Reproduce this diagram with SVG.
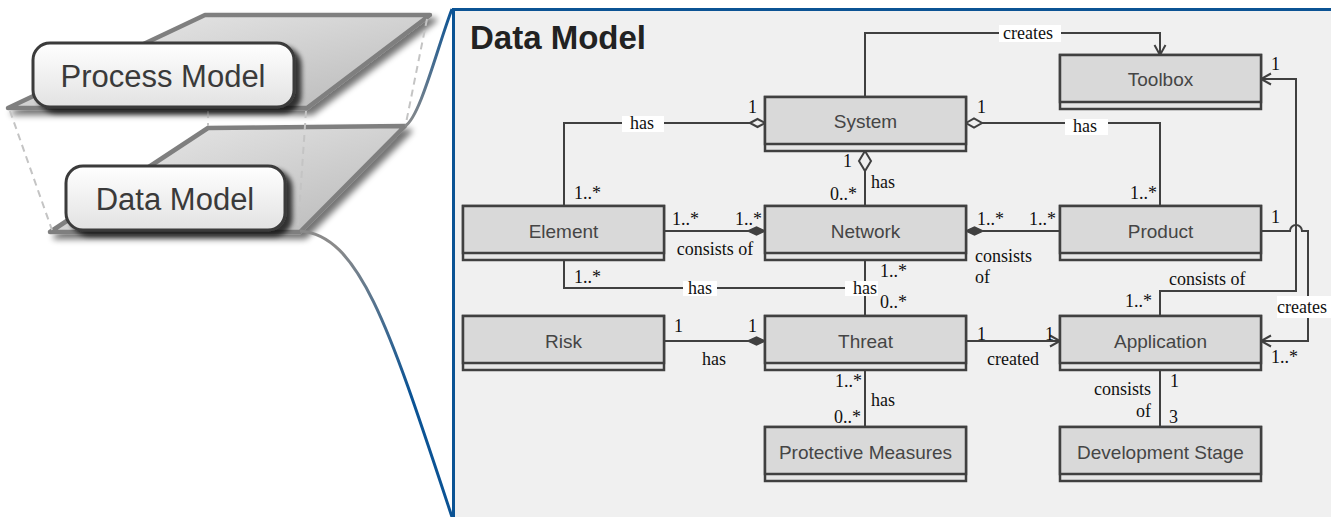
<svg xmlns="http://www.w3.org/2000/svg" width="1331" height="517" viewBox="0 0 1331 517">
<defs>
<style>
.box rect{stroke:#404040;stroke-width:2.5}
.box .main{fill:#d9d9d9}
.box .foot{fill:#e6e6e6}
.box text{font-family:"Liberation Sans",Arial,sans-serif;font-size:19px;fill:#454545;text-anchor:middle}
.c path{fill:none;stroke:#404040;stroke-width:2}
.c .hd{fill:#f0f0f0;stroke:#404040;stroke-width:2}
.c .fd{fill:#404040;stroke:#404040;stroke-width:1.5}
.t{font-family:"Liberation Serif","Times New Roman",serif;font-size:18px;fill:#111}
.m{text-anchor:middle}
.e{text-anchor:end}
.bg{fill:#ffffff}
.plane{stroke:#7f7f7f;stroke-width:4.5;stroke-linejoin:round}
.dash{stroke:#c4c4c4;stroke-width:2;stroke-dasharray:7 5;fill:none}
.lab rect{fill:url(#gLab);stroke:#3a3a3a;stroke-width:3}
.lab text{font-family:"Liberation Sans",Arial,sans-serif;font-size:31px;fill:#3a3a3a;text-anchor:middle}
</style>
<linearGradient id="gPlane" x1="0" y1="0" x2="1" y2="1">
<stop offset="0" stop-color="#ececec"/><stop offset="1" stop-color="#b8b8b8"/>
</linearGradient>
<linearGradient id="gLab" x1="0" y1="0" x2="0" y2="1">
<stop offset="0" stop-color="#ffffff"/><stop offset="1" stop-color="#e2e2e2"/>
</linearGradient>
<linearGradient id="gUp" gradientUnits="userSpaceOnUse" x1="405" y1="126" x2="452" y2="9">
<stop offset="0" stop-color="#8a8a8a"/><stop offset="1" stop-color="#0b5394"/>
</linearGradient>
<linearGradient id="gDown" gradientUnits="userSpaceOnUse" x1="300" y1="231" x2="452" y2="517">
<stop offset="0.1" stop-color="#8a8a8a"/><stop offset="0.6" stop-color="#0b5394"/>
</linearGradient>
<filter id="sh" x="-10%" y="-10%" width="130%" height="150%">
<feGaussianBlur in="SourceAlpha" stdDeviation="3"/>
<feOffset dx="5" dy="5"/>
<feComponentTransfer><feFuncA type="linear" slope="0.55"/></feComponentTransfer>
<feMerge><feMergeNode/><feMergeNode in="SourceGraphic"/></feMerge>
</filter>
<filter id="sh2" x="-10%" y="-10%" width="130%" height="150%">
<feGaussianBlur in="SourceAlpha" stdDeviation="2.5"/>
<feOffset dx="6" dy="5"/>
<feComponentTransfer><feFuncA type="linear" slope="0.75"/></feComponentTransfer>
<feMerge><feMergeNode/><feMergeNode in="SourceGraphic"/></feMerge>
</filter>
<marker id="arr" markerUnits="userSpaceOnUse" markerWidth="14" markerHeight="14" refX="12" refY="7" orient="auto" viewBox="0 0 14 14">
<path d="M2,1.5 L12,7 L2,12.5" fill="none" stroke="#404040" stroke-width="2"/>
</marker>
</defs>

<!-- left: layered models -->
<g id="layers">
<polygon class="plane" points="208,128 405,126 300,232 50,232" fill="url(#gPlane)" filter="url(#sh)"/>
<polygon class="plane" points="205,15 430,15 307,108 8,108" fill="url(#gPlane)" filter="url(#sh)"/>
<path class="dash" d="M10,111 L52,230"/>
<path class="dash" d="M208,111 L208,126"/>
<path class="dash" d="M306,111 L298,228"/>
<path class="dash" d="M427,19 L406,123"/>
<g id="process-model" class="lab">
<rect x="33" y="43" width="261" height="64" rx="17" filter="url(#sh2)"/>
<text x="163" y="87">Process Model</text>
</g>
<g id="data-model" class="lab">
<rect x="66" y="166" width="219" height="64" rx="17" filter="url(#sh2)"/>
<text x="175" y="210">Data Model</text>
</g>
<path d="M405,126 C420,118 438,45 452,9" fill="none" stroke="url(#gUp)" stroke-width="3"/>
<path d="M300,231 C360,235 390,330 452,517" fill="none" stroke="url(#gDown)" stroke-width="3"/>
</g>

<!-- panel -->
<rect x="453.5" y="9.5" width="1000" height="600" fill="#f0f0f0" stroke="#0b5394" stroke-width="3"/>
<text x="470" y="49" font-family="Liberation Sans,Arial,sans-serif" font-size="33" font-weight="bold" fill="#222">Data Model</text>

<!-- connectors -->
<g id="connectors" class="c">
<path d="M865,97 V33 H1160 V55" marker-end="url(#arr)"/>
<path d="M564,206 V123 H750"/>
<polygon class="hd" points="750,123 757.5,119 765,123 757.5,127"/>
<polygon class="hd" points="966,123 974,118.5 982,123 974,127.5"/>
<path d="M982,123 H1160 V206"/>
<polygon class="hd" points="865,151 871,161 865,171 859,161"/>
<path d="M865,171 V206"/>
<path d="M664,231 H748"/>
<polygon class="fd" points="748,231 756.5,227 765,231 756.5,235"/>
<polygon class="fd" points="966,231 974.5,227 983,231 974.5,235"/>
<path d="M983,231 H1060"/>
<path d="M564,260 V288 H865"/>
<path d="M865,260 V316"/>
<path d="M664,341 H748"/>
<polygon class="fd" points="748,341 756.5,337 765,341 756.5,345"/>
<path d="M966,341 H1060" marker-end="url(#arr)"/>
<path d="M865,370 V427"/>
<path d="M1160,370 V427"/>
<path d="M1160,316 V291 H1296 V79 H1261" marker-end="url(#arr)"/>
<path d="M1261,231 H1290 A6,6 0 0 1 1302,231 H1308 V341 H1261" marker-end="url(#arr)"/>

<rect class="bg" x="999" y="25" width="62" height="17"/>
<text class="t m" x="1028" y="39">creates</text>
<rect class="bg" x="622" y="116" width="42" height="16"/>
<text class="t m" x="642" y="129">has</text>
<rect class="bg" x="1065" y="119" width="43" height="16"/>
<text class="t m" x="1085" y="132">has</text>
<rect class="bg" x="683" y="281" width="34" height="15"/>
<text class="t m" x="700" y="294">has</text>
<rect class="bg" x="845" y="281" width="33" height="15"/>
<text class="t m" x="865" y="294">has</text>
<rect class="bg" x="1277" y="296" width="54" height="22"/>
<text class="t" x="1277" y="313">creates</text>

<text class="t" x="748" y="113">1</text>
<text class="t" x="977" y="113">1</text>
<text class="t" x="1271" y="70">1</text>
<text class="t" x="843" y="167">1</text>
<text class="t" x="871" y="188">has</text>
<text class="t" x="830" y="200">0..*</text>
<text class="t" x="574" y="199">1..*</text>
<text class="t" x="1130" y="199">1..*</text>
<text class="t" x="672" y="225">1..*</text>
<text class="t" x="735" y="225">1..*</text>
<text class="t m" x="715" y="255">consists of</text>
<text class="t" x="977" y="225">1..*</text>
<text class="t" x="1029" y="225">1..*</text>
<text class="t" x="975" y="262">consists</text>
<text class="t" x="975" y="283">of</text>
<text class="t" x="1271" y="223">1</text>
<text class="t" x="574" y="283">1..*</text>
<text class="t" x="880" y="277">1..*</text>
<text class="t" x="880" y="308">0..*</text>
<text class="t" x="1169" y="285">consists of</text>
<text class="t" x="1125" y="307">1..*</text>
<text class="t" x="674" y="332">1</text>
<text class="t" x="748" y="332">1</text>
<text class="t m" x="714" y="365">has</text>
<text class="t" x="977" y="340">1</text>
<text class="t" x="1045" y="340">1</text>
<text class="t m" x="1013" y="365">created</text>
<text class="t" x="1271" y="363">1..*</text>
<text class="t" x="835" y="387">1..*</text>
<text class="t" x="871" y="406">has</text>
<text class="t" x="834" y="423">0..*</text>
<text class="t" x="1170" y="387">1</text>
<text class="t e" x="1151" y="395">consists</text>
<text class="t e" x="1151" y="417">of</text>
<text class="t" x="1169" y="423">3</text>
</g>

<!-- nodes -->
<g id="system" class="box"><rect class="foot" x="765" y="97" width="201" height="54"/><rect class="main" x="765" y="97" width="201" height="47"/><text x="865.5" y="128">System</text></g>
<g id="toolbox" class="box"><rect class="foot" x="1060" y="55" width="201" height="54"/><rect class="main" x="1060" y="55" width="201" height="47"/><text x="1160.5" y="86">Toolbox</text></g>
<g id="element" class="box"><rect class="foot" x="463" y="206" width="201" height="54"/><rect class="main" x="463" y="206" width="201" height="47"/><text x="563.5" y="238">Element</text></g>
<g id="network" class="box"><rect class="foot" x="765" y="206" width="201" height="54"/><rect class="main" x="765" y="206" width="201" height="47"/><text x="865.5" y="238">Network</text></g>
<g id="product" class="box"><rect class="foot" x="1060" y="206" width="201" height="54"/><rect class="main" x="1060" y="206" width="201" height="47"/><text x="1160.5" y="238">Product</text></g>
<g id="risk" class="box"><rect class="foot" x="463" y="316" width="201" height="54"/><rect class="main" x="463" y="316" width="201" height="47"/><text x="563.5" y="348">Risk</text></g>
<g id="threat" class="box"><rect class="foot" x="765" y="316" width="201" height="54"/><rect class="main" x="765" y="316" width="201" height="47"/><text x="865.5" y="348">Threat</text></g>
<g id="application" class="box"><rect class="foot" x="1060" y="316" width="201" height="54"/><rect class="main" x="1060" y="316" width="201" height="47"/><text x="1160.5" y="348">Application</text></g>
<g id="protective-measures" class="box"><rect class="foot" x="765" y="427" width="201" height="54"/><rect class="main" x="765" y="427" width="201" height="47"/><text x="865.5" y="459">Protective Measures</text></g>
<g id="development-stage" class="box"><rect class="foot" x="1060" y="427" width="201" height="54"/><rect class="main" x="1060" y="427" width="201" height="47"/><text x="1160.5" y="459">Development Stage</text></g>
</svg>
